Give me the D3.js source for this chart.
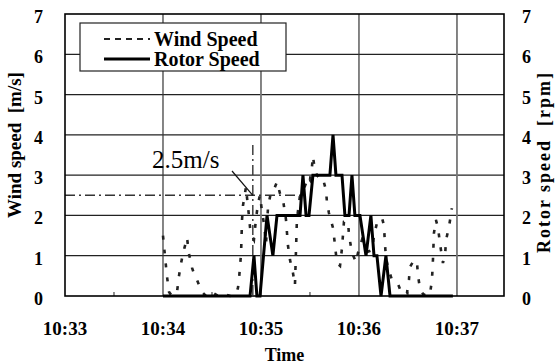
<!DOCTYPE html>
<html>
<head>
<meta charset="utf-8">
<script src="https://cdn.jsdelivr.net/npm/d3@7"></script>
<style>
  body { margin: 0; background: #fff; }
  svg { display: block; font-family: "Liberation Serif", "Times New Roman", serif; }
</style>
</head>
<body>
<svg id="chart" width="555" height="364"></svg>
<script>
//DATA (time = seconds after 10:33:00)
const tickLabels = ['10:33', '10:34', '10:35', '10:36', '10:37'];
const yTicks = [0, 1, 2, 3, 4, 5, 6, 7];

const windTime = [60, 61.2, 62.4, 63.7, 65.5, 68.6, 69.8, 71, 72.2, 73.5, 74.7, 75.9, 77.8, 79, 80.8, 82, 83.9, 86.3, 90, 93.7,
  97.3, 101, 104.7, 105.9, 106.5, 107.8, 108.4, 109, 110.8, 111.4, 112.7, 113.3, 114.5, 115.7, 116.9, 118.2, 119.4, 120.6, 121.8, 123.1,
  124.3, 126.1, 128, 129.8, 131.6, 133.5, 135.3, 136.5, 137.8, 139.6, 140.8, 142, 143.9, 145.7, 147.6, 148.8, 150, 151.2, 151.8, 153.1,
  154.3, 156.7, 158, 159.8, 160.4, 161.6, 164.1, 165.3, 166.5, 168.4, 169.6, 170.8, 172, 173.3, 173.9, 175.1, 176.3, 178.2, 179.4, 181.8,
  183.7, 185.5, 188, 189.2, 191, 194.1, 195.3, 195.9, 196.5, 197.8, 200.2, 203.9, 206.3, 209.4, 210.6, 211.2, 213.1, 214.3, 215.5, 216.1,
  217.3, 219.2, 221.6, 223.5, 224.7, 225.3, 225.9, 227.1, 228.4, 229.6, 231.4, 232.7, 233.3, 235.1, 236.9];
const windSpeed = [1.5, 1.0, 0.5, 0.1, 0.0, 0.1, 0.5, 0.8, 1.05, 1.25, 1.45, 1.05, 0.7, 0.55, 0.4, 0.28, 0.1, 0.0, 0.1, 0.0,
  0.05, 0.0, 0.05, 0.2, 0.4, 1.05, 1.9, 2.25, 2.7, 2.46, 1.97, 1.7, 1.5, 1.4, 1.9, 2.3, 2.5, 2.1, 1.8, 1.3,
  2.2, 2.58, 2.65, 2.83, 2.55, 2.38, 1.9, 1.26, 0.89, 0.57, 0.27, 1.9, 2.5, 2.6, 2.8, 2.95, 2.88, 3.2, 3.47, 3.1,
  3.0, 2.88, 2.9, 2.63, 2.33, 2.06, 1.69, 1.27, 0.82, 0.75, 1.19, 1.84, 1.85, 1.84, 1.51, 1.22, 1.02, 0.84, 1.07, 1.39,
  1.25, 1.1, 1.14, 1.5, 1.81, 1.94, 1.75, 1.3, 0.97, 0.7, 0.4, 0.3, 0.05, 0.07, 0.4, 0.72, 0.85, 0.89, 0.85, 0.52,
  0.2, 0.05, 0.0, 0.05, 0.4, 0.9, 1.56, 1.89, 1.7, 1.3, 0.82, 1.0, 1.39, 1.71, 2.18];

const rotorTime = [60, 113.3, 115.7, 117.5, 119.4, 123.7, 127.3, 129.8, 143.9, 145.7, 147.6, 149.4, 151.8, 162.2, 164.1, 165.9,
  169.6, 171.4, 173.9, 175.7, 177.5, 180.6, 184.3, 187.3, 189.2, 191, 193.5, 196.5, 199, 237.5];
const rotorSpeed = [0, 0, 1, 0, 0, 2, 1, 2, 2, 3, 2, 2, 3, 3, 4, 3,
  3, 2, 2, 3, 2, 2, 1, 2, 1, 1, 0, 1, 0, 0];

//2.5 m/s MARKER
const refLevel = 2.5;
const refTime = 115;
const refTop = 3.75;
const refEnd = 144;

const svg = d3.select('#chart');
const margin = {left: 65, right: 51, top: 14, bottom: 68};
const width = 555 - margin.left - margin.right;
const height = 364 - margin.top - margin.bottom;

const x = d3.scaleLinear().domain([0, 268.8]).range([margin.left, margin.left + width]);
const y = d3.scaleLinear().domain([0, 7]).range([margin.top + height, margin.top]);

//GRID
const grid = svg.append('g');
grid.selectAll('line.h').data(yTicks.slice(1, -1)).join('line')
  .attr('x1', margin.left).attr('x2', margin.left + width)
  .attr('y1', d => y(d)).attr('y2', d => y(d))
  .attr('stroke', '#222').attr('stroke-width', 1.2);
grid.selectAll('line.v').data([60, 120, 180, 240]).join('line')
  .attr('x1', d => x(d)).attr('x2', d => x(d))
  .attr('y1', margin.top).attr('y2', margin.top + height)
  .attr('stroke', (d, i) => i % 2 ? '#777' : '#333')
  .attr('stroke-width', (d, i) => i % 2 ? 1.8 : 1.2);

//MINOR TICKS
svg.append('g').selectAll('line').data([30, 90, 150, 210]).join('line')
  .attr('x1', d => x(d)).attr('x2', d => x(d))
  .attr('y1', margin.top + height).attr('y2', margin.top + height - 4)
  .attr('stroke', '#222').attr('stroke-width', 1);

//REFERENCE LINES
svg.append('line')
  .attr('x1', x(0)).attr('x2', x(refEnd))
  .attr('y1', y(refLevel)).attr('y2', y(refLevel))
  .attr('stroke', '#333').attr('stroke-width', 1.4)
  .attr('stroke-dasharray', '10,4,2,4');
svg.append('line')
  .attr('x1', x(refTime)).attr('x2', x(refTime))
  .attr('y1', y(refTop)).attr('y2', y(0))
  .attr('stroke', '#333').attr('stroke-width', 1.4)
  .attr('stroke-dasharray', '10,4,2,4');

//SERIES
const windLine = d3.line().x((d, i) => x(windTime[i])).y(d => y(d));
svg.append('path')
  .attr('d', windLine(windSpeed))
  .attr('fill', 'none')
  .attr('stroke', '#222')
  .attr('stroke-width', 2.6)
  .attr('stroke-dasharray', '4,10');

const rotorLine = d3.line().x((d, i) => x(rotorTime[i])).y(d => y(d));
svg.append('path')
  .attr('d', rotorLine(rotorSpeed))
  .attr('fill', 'none')
  .attr('stroke', '#000')
  .attr('stroke-width', 3)
  .attr('stroke-linejoin', 'miter');

//ANNOTATION
svg.append('text')
  .attr('x', 152).attr('y', 168)
  .attr('font-size', 25)
  .text('2.5m/s');
svg.append('line')
  .attr('x1', 232).attr('y1', 171)
  .attr('x2', x(refTime)).attr('y2', y(refLevel))
  .attr('stroke', '#111').attr('stroke-width', 1.2);

//FRAME
svg.append('rect')
  .attr('x', margin.left).attr('y', margin.top)
  .attr('width', width).attr('height', height)
  .attr('fill', 'none').attr('stroke', '#000').attr('stroke-width', 1.6);

//AXIS LABELS
const labels = svg.append('g').attr('font-weight', 'bold').attr('font-size', 18);
labels.selectAll('text.yl').data(yTicks).join('text')
  .attr('x', 43).attr('y', d => y(d) + 9)
  .attr('text-anchor', 'end')
  .text(d => d);
labels.selectAll('text.yr').data(yTicks).join('text')
  .attr('x', 522).attr('y', d => y(d) + 9)
  .text(d => d);
labels.selectAll('text.xl').data(tickLabels).join('text')
  .attr('x', (d, i) => x(i * 60)).attr('y', 335)
  .attr('text-anchor', 'middle')
  .attr('font-size', 19)
  .text(d => d);
labels.append('text')
  .attr('x', x(134.4)).attr('y', 361)
  .attr('text-anchor', 'middle')
  .text('Time');
labels.append('text')
  .attr('transform', 'translate(21,145) rotate(-90)')
  .attr('text-anchor', 'middle')
  .attr('font-size', 19)
  .attr('xml:space', 'preserve')
  .text('Wind speed  [m/s]');
labels.append('text')
  .attr('transform', 'translate(550,163) rotate(-90)')
  .attr('text-anchor', 'middle')
  .attr('font-size', 18)
  .attr('textLength', 180)
  .attr('lengthAdjust', 'spacing')
  .attr('xml:space', 'preserve')
  .text('Rotor speed  [rpm]');

//LEGEND
const legend = svg.append('g');
legend.append('rect')
  .attr('x', 80).attr('y', 23).attr('width', 206).attr('height', 48)
  .attr('fill', '#fff').attr('stroke', '#222').attr('stroke-width', 1.2);
legend.append('line')
  .attr('x1', 104).attr('x2', 150).attr('y1', 39).attr('y2', 39)
  .attr('stroke', '#222').attr('stroke-width', 2).attr('stroke-dasharray', '6,5');
legend.append('line')
  .attr('x1', 104).attr('x2', 150).attr('y1', 59).attr('y2', 59)
  .attr('stroke', '#000').attr('stroke-width', 3);
legend.append('text')
  .attr('x', 154).attr('y', 46)
  .attr('font-weight', 'bold').attr('font-size', 20)
  .text('Wind Speed');
legend.append('text')
  .attr('x', 154).attr('y', 66)
  .attr('font-weight', 'bold').attr('font-size', 20)
  .text('Rotor Speed');
</script>
</body>
</html>
